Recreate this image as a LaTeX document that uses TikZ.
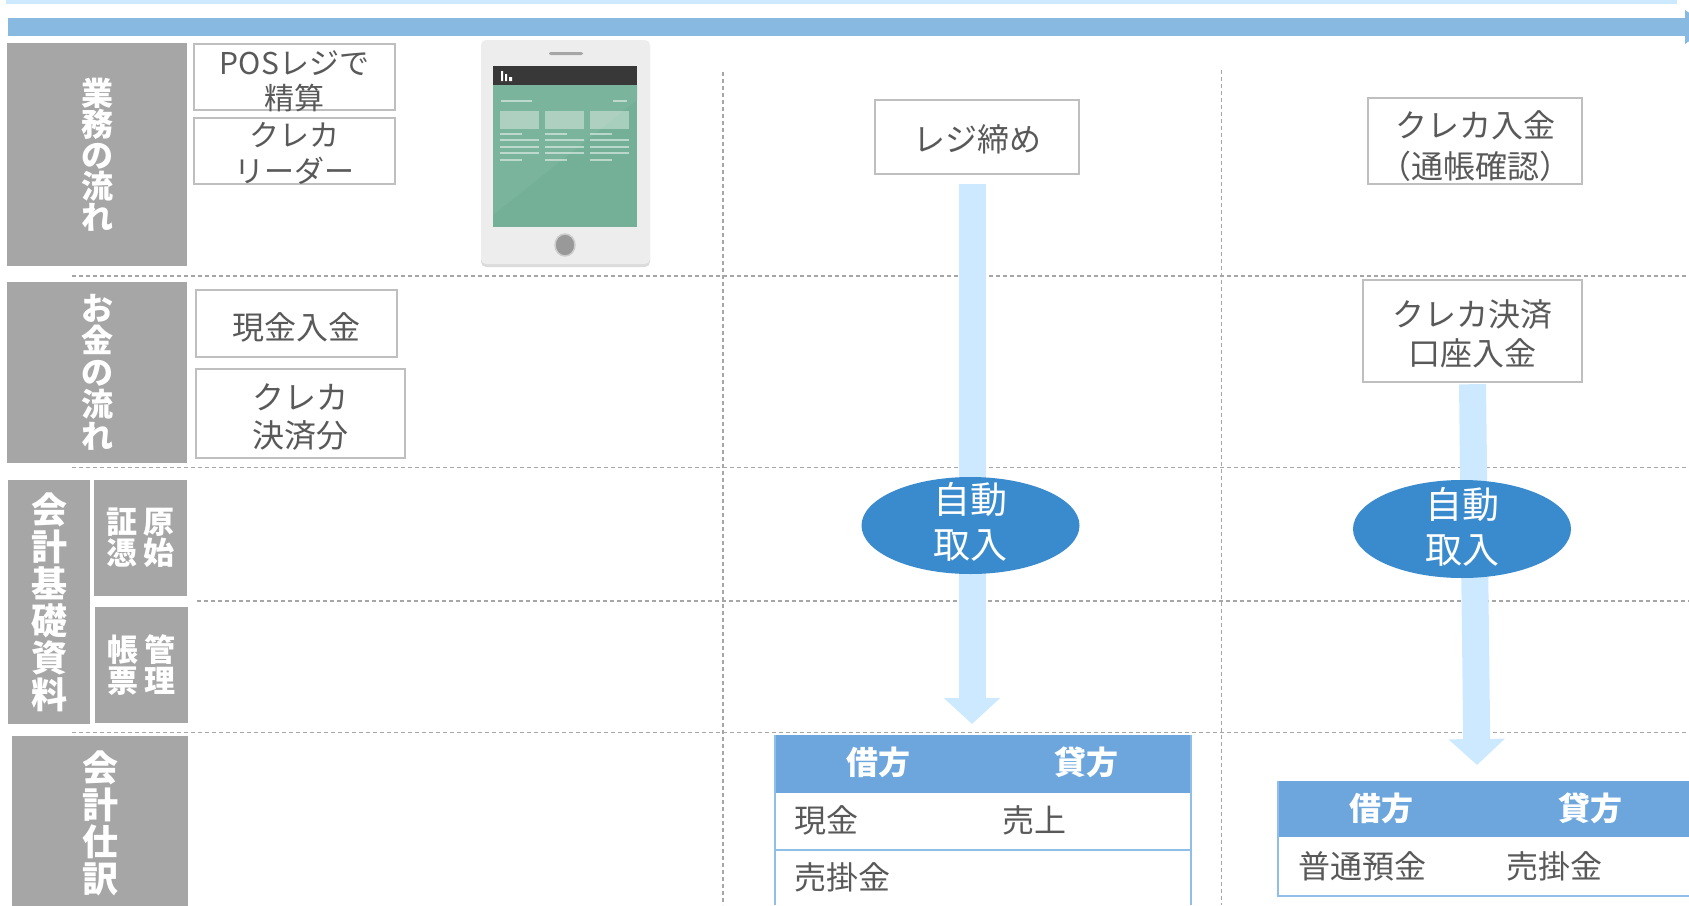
\documentclass[tikz,border=0pt]{standalone}
\usepackage{fontspec}
\setmainfont{Noto Sans CJK JP}
\usetikzlibrary{arrows.meta,shapes.geometric}
\definecolor{labelgray}{HTML}{A6A6A6}
\definecolor{boxgray}{HTML}{BFBFBF}
\definecolor{textgray}{HTML}{595959}
\definecolor{flowblue}{HTML}{CCE9FF}
\definecolor{timeblue}{HTML}{88B9E0}
\definecolor{ovalblue}{HTML}{3A8BCD}
\definecolor{headblue}{HTML}{6CA6DC}
\definecolor{ruleblue}{HTML}{8FBFE8}
\definecolor{screengreen}{HTML}{74B097}
\newcommand{\boxtext}[2][13.5pt]{\raisebox{-#1}[0pt][0pt]{\begin{tabular}{@{}c@{}}#2\end{tabular}}}

\begin{document}
\begin{tikzpicture}[x=1pt,y=-1pt,
                every path/.style={>=latex},
                labelbox/.style={fill=labelgray,text=white,inner sep=0pt,align=center,font=\bfseries\fontsize{32}{32}\selectfont},
                bigbox/.style={labelbox,font=\bfseries\fontsize{36}{37}\selectfont},
                smallbox/.style={labelbox,font=\bfseries\fontsize{31}{31}\selectfont},
                stepbox/.style={draw=boxgray,line width=2.4pt,fill=white,text=textgray,inner sep=0pt,font=\fontsize{32}{38}\selectfont},
                autooval/.style={ellipse,fill=ovalblue,text=white,inner sep=0pt,font=\fontsize{37}{45}\selectfont},
                headcell/.style={text=white,font=\bfseries\fontsize{32}{32}\selectfont,inner sep=0pt},
                bodycell/.style={text=textgray,font=\fontsize{32}{32}\selectfont,inner sep=0pt,anchor=west},
                gridline/.style={draw=labelgray,line width=1.3pt,dash pattern=on 4pt off 3pt},
                flow/.style={draw=flowblue,-{Triangle[length=26pt,width=55pt]}}]
  \useasboundingbox (0,0) rectangle (1689,905);
  \clip (0,0) rectangle (1689,905);

  % time bands
  \fill[flowblue] (6,0) rectangle (1677,4);
  \fill[timeblue] (8,18) rectangle (1685,36);
  \fill[timeblue] (1685,10) -- (1710,27) -- (1685,44) -- cycle;

  % left labels
  \node[labelbox,minimum width=180pt,minimum height=223pt,font=\bfseries\fontsize{32}{31}\selectfont] (work) at (97,154.5) {業\\務\\の\\流\\れ};
  \node[labelbox,minimum width=180pt,minimum height=181pt] (money) at (97,372.5) {お\\金\\の\\流\\れ};
  \node[bigbox,minimum width=82pt,minimum height=244pt] (basis) at (49,602) {会\\計\\基\\礎\\資\\料};
  \node[smallbox,minimum width=93pt,minimum height=116pt] (voucher) at (140.5,538) {証\hspace{6pt}原\\憑\hspace{6pt}始};
  \node[smallbox,minimum width=93pt,minimum height=116pt] (ledger) at (141.5,665) {帳\hspace{6pt}管\\票\hspace{6pt}理};
  \node[bigbox,minimum width=176pt,minimum height=175pt] (entry) at (100,823.5) {会\\計\\仕\\訳};

  % grid
  \draw[gridline] (72,276) -- (1689,276);
  \draw[gridline] (72,467.5) -- (1689,467.5);
  \draw[gridline] (197,601) -- (1689,601);
  \draw[gridline] (72,732.5) -- (1689,732.5);
  \draw[gridline] (723,72) -- (723,905);
  \draw[gridline] (1221.5,70) -- (1221.5,905);

  % tablet
  \fill[black!14,rounded corners=5pt] (481,41) rectangle (650,267);
  \fill[black!7,rounded corners=5pt] (481,40) rectangle (650,264);
  \fill[black!35,rounded corners=2pt] (549,52) rectangle (583,55);
  \fill[screengreen] (493,85) rectangle (637,227);
  \fill[screengreen!95!white] (493,85) -- (637,85) -- (637,100) -- (493,215) -- cycle;
  \fill[black!78] (493,66) rectangle (637,85);
  \fill[white] (501,71) rectangle (503,81) (505,74) rectangle (507,81) (509,77) rectangle (512,81);
  \foreach \x in {500,545,590} {
    \fill[white,opacity=.38] (\x,111) rectangle ++(39,18);
    \fill[white,opacity=.5] (\x,133) rectangle ++(22,2);
    \foreach \y in {139,146,152}
      \fill[white,opacity=.5] (\x,\y) rectangle ++(39,2);
    \fill[white,opacity=.5] (\x,159) rectangle ++(22,2);
  }
  \fill[white,opacity=.5] (501,100) rectangle (532,102);
  \fill[white,opacity=.5] (613,100) rectangle (627,102);
  \filldraw[fill=black!40,draw=black!20,line width=1.5pt] (565,245) ellipse (10 and 11);

  % step boxes
  \node[stepbox,font=\fontsize{30}{34}\selectfont,minimum width=201pt,minimum height=66pt] (pos) at (294.5,77) {\boxtext[14.5pt]{POSレジで\\精算}};
  \node[stepbox,font=\fontsize{30}{34}\selectfont,minimum width=201pt,minimum height=66pt] (reader) at (294.5,151) {\boxtext[13pt]{クレカ\\リーダー}};
  \node[stepbox,minimum width=201pt,minimum height=67pt] (cash) at (296.5,323.5) {\boxtext[14.5pt]{現金入金}};
  \node[stepbox,font=\fontsize{32}{37}\selectfont,minimum width=209pt,minimum height=89pt] (card) at (300.5,413.5) {\boxtext[14pt]{クレカ\\決済分}};
  \node[stepbox,minimum width=204pt,minimum height=74pt] (close) at (977,137) {\boxtext[13pt]{レジ締め}};
  \node[stepbox,font=\fontsize{32}{41}\selectfont,minimum width=214pt,minimum height=86pt] (bank) at (1475,141) {\boxtext[15pt]{クレカ入金\\（通帳確認）}};
  \node[stepbox,minimum width=219pt,minimum height=102pt] (deposit) at (1472.5,331) {\boxtext[13.5pt]{クレカ決済\\口座入金}};

  % arrows
  \coordinate (tipa) at (972,724);
  \coordinate (tipb) at (1477,765);
  \draw[flow,line width=27pt,shorten <=9pt] (tipa |- close.south) -- (tipa);
  \draw[flow,line width=27pt,shorten <=1pt] (deposit.south) -- (tipb);
  \node[autooval,minimum width=218pt,minimum height=97pt] (autoa) at (970.5,525.5) {\boxtext[8pt]{自動\\取入}};
  \node[autooval,minimum width=218pt,minimum height=98pt] (autob) at (1462,529) {\boxtext[9.5pt]{自動\\取入}};

  % journal tables
  \fill[headblue] (775,735) rectangle (1191,793);
  \draw[ruleblue,line width=1.5pt] (775,735) -- (775,905) (1191,735) -- (1191,905) (775,850) -- (1191,850);
  \node[headcell] (debita) at (878,762) {借方};
  \node[headcell] (credita) at (1086,762) {貸方};
  \node[bodycell] (casha) at (794,820) {現金};
  \node[bodycell] (salesa) at (1002,820) {売上};
  \node[bodycell] (recva) at (794,877) {売掛金};

  \fill[headblue] (1278,781) rectangle (1689,837);
  \draw[ruleblue,line width=1.5pt] (1689,896) -- (1278,896) -- (1278,781);
  \node[headcell] (debitb) at (1381,808) {借方};
  \node[headcell] (creditb) at (1590,808) {貸方};
  \node[bodycell] (savings) at (1298,866) {普通預金};
  \node[bodycell] (recvb) at (1506,866) {売掛金};
\end{tikzpicture}
\end{document}
